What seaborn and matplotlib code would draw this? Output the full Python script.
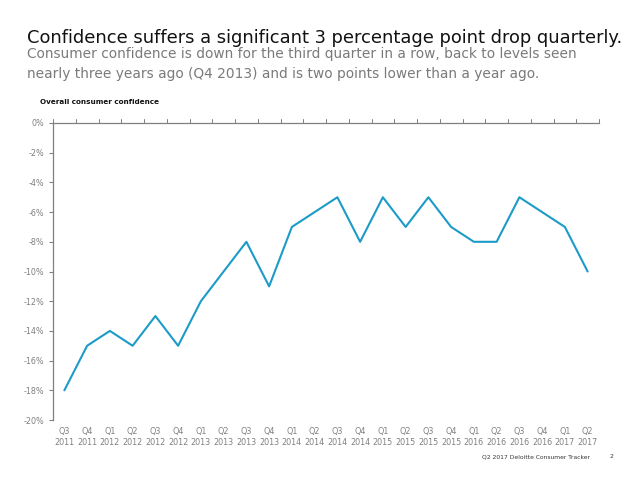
import matplotlib
matplotlib.use("Agg")
import matplotlib.pyplot as plt
import seaborn as sns
import pandas as pd

quarters = ["Q3\n2011", "Q4\n2011", "Q1\n2012", "Q2\n2012", "Q3\n2012", "Q4\n2012",
            "Q1\n2013", "Q2\n2013", "Q3\n2013", "Q4\n2013", "Q1\n2014", "Q2\n2014",
            "Q3\n2014", "Q4\n2014", "Q1\n2015", "Q2\n2015", "Q3\n2015", "Q4\n2015",
            "Q1\n2016", "Q2\n2016", "Q3\n2016", "Q4\n2016", "Q1\n2017", "Q2\n2017"]
confidence = [-18, -15, -14, -15, -13, -15, -12, -10, -8, -11, -7, -6,
              -5, -8, -5, -7, -5, -7, -8, -8, -5, -6, -7, -10]
y_ticks = [0, -2, -4, -6, -8, -10, -12, -14, -16, -18, -20]

df = pd.DataFrame({"pos": range(len(quarters)), "value": confidence})

sns.set_style("white")
plt.rcParams["font.family"] = ["DejaVu Sans"]

fig = plt.figure(figsize=(6.38, 4.79), dpi=100)
ax = fig.add_axes([53 / 638, 1 - 420 / 479, 546 / 638, 297 / 479])

sns.lineplot(data=df, x="pos", y="value", color="#1c9bc8", linewidth=1.5, ax=ax)

axis_grey = "#808080"
ax.set_xlim(-0.5, len(quarters) - 0.5)
ax.set_ylim(-20, 0)
ax.set_yticks(y_ticks)
ax.set_yticklabels([f"{v}%" for v in y_ticks], fontsize=5.8, color=axis_grey)
ax.set_xticks(range(len(quarters)))
ax.set_xticklabels(quarters, fontsize=5.8, color=axis_grey, linespacing=1.25)
ax.tick_params(axis="x", length=0, pad=5)
ax.tick_params(axis="y", length=3, width=0.8, color=axis_grey, left=True, pad=3)
ax.set_xlabel("")
ax.set_ylabel("")

for side in ["right", "bottom"]:
    ax.spines[side].set_visible(False)
for side in ["left", "top"]:
    ax.spines[side].set_color(axis_grey)
    ax.spines[side].set_linewidth(0.9)

# small upward ticks on the 0% line between quarters
for b in range(len(quarters) + 1):
    ax.plot([b - 0.5, b - 0.5], [0, 0.25], color=axis_grey, lw=0.7, clip_on=False)

fig.text(27 / 638, 1 - 38 / 479, "Confidence suffers a significant 3 percentage point drop quarterly.",
         fontsize=12.85, color="#111111", va="center")
fig.text(27 / 638, 1 - 64 / 479,
         "Consumer confidence is down for the third quarter in a row, back to levels seen\n"
         "nearly three years ago (Q4 2013) and is two points lower than a year ago.",
         fontsize=9.9, color="#7a7a7a", va="center", linespacing=1.55)
fig.text(40 / 638, 1 - 102 / 479, "Overall consumer confidence", fontsize=5.2,
         fontweight="bold", color="#111111", va="center")
fig.text(590 / 638, 1 - 457 / 479, "Q2 2017 Deloitte Consumer Tracker", fontsize=4.3,
         color="#333333", va="center", ha="right")
fig.text(609 / 638, 1 - 457 / 479, "2", fontsize=4.3, color="#333333", va="center")

fig.savefig("out.png", dpi=100)
